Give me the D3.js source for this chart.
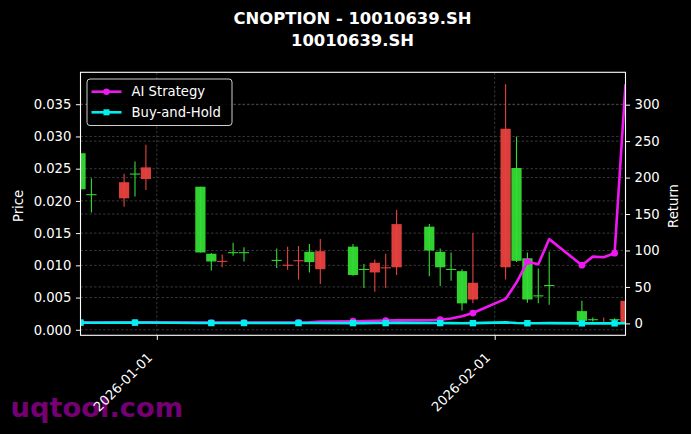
<!DOCTYPE html>
<html>
<head>
<meta charset="utf-8">
<script src="https://cdn.jsdelivr.net/npm/d3@7"></script>
<style>
  html, body { margin: 0; padding: 0; background: #000; }
  svg { display: block; font-family: "DejaVu Sans", sans-serif; }
</style>
</head>
<body>
<div id="chart"></div>
<script>
// trading days (weekends and 2026-01-01 holiday skipped)
const dates = [
  "2025-12-25", "2025-12-26", "2025-12-29", "2025-12-30", "2025-12-31",
  "2026-01-05", "2026-01-06", "2026-01-07", "2026-01-08", "2026-01-09",
  "2026-01-12", "2026-01-13", "2026-01-14", "2026-01-15", "2026-01-16",
  "2026-01-19", "2026-01-20", "2026-01-21", "2026-01-22", "2026-01-23",
  "2026-01-26", "2026-01-27", "2026-01-28", "2026-01-29", "2026-01-30",
  "2026-02-02", "2026-02-03", "2026-02-04", "2026-02-05", "2026-02-06",
  "2026-02-09", "2026-02-10", "2026-02-11", "2026-02-12", "2026-02-13"
];
const opens = [
  0.0274, 0.02105, 0.0204, 0.02425, 0.0234,
  0.0222, 0.0118, 0.0106, 0.01205, 0.01205,
  0.01085, 0.0101, 0.0108, 0.0121, 0.0094,
  0.0129, 0.00945, 0.0089, 0.0097, 0.0097,
  0.0160, 0.0121, 0.00945, 0.0091, 0.0047,
  0.0097, 0.0251, 0.0111, 0.00535, 0.00695,
  0.0029, 0.00165, 0.0010, 0.00165, 0.0010
];
const highs = [
  0.0274, 0.0235, 0.0242, 0.0261, 0.0287,
  0.0222, 0.0119, 0.0117, 0.0135, 0.0128,
  0.0126, 0.0129, 0.0130, 0.0133, 0.0141,
  0.0133, 0.0102, 0.0109, 0.0118, 0.0186,
  0.0164, 0.0126, 0.0120, 0.0094, 0.0150,
  0.0381, 0.0300, 0.0120, 0.0095, 0.0121,
  0.0045, 0.0019, 0.0019, 0.0018, 0.0045
];
const lows = [
  0.0218, 0.0182, 0.0191, 0.0207, 0.0217,
  0.0120, 0.0092, 0.0097, 0.0115, 0.0106,
  0.0096, 0.0093, 0.0078, 0.0089, 0.0071,
  0.0084, 0.0065, 0.0059, 0.0065, 0.0085,
  0.0083, 0.0068, 0.0076, 0.0030, 0.0041,
  0.0078, 0.0105, 0.0042, 0.0041, 0.0039,
  0.0014, 0.0013, 0.0010, 0.0013, 0.0010
];
const closes = [
  0.0218, 0.0210, 0.0229, 0.0242, 0.0252,
  0.0120, 0.0106, 0.0107, 0.0120, 0.0120,
  0.0108, 0.0101, 0.0108, 0.0105, 0.0122,
  0.0085, 0.0094, 0.0104, 0.0097, 0.0164,
  0.0123, 0.0097, 0.0094, 0.0041, 0.0073,
  0.0312, 0.0107, 0.0047, 0.0053, 0.0069,
  0.0014, 0.0016, 0.0011, 0.0016, 0.0045
];
const aiReturn = [
  1.0, 1.0, 1.0, 1.0, 1.0,
  1.0, 1.0, 1.0, 1.0, 1.0,
  1.0, 1.1, 1.3, 1.6, 2.4,
  3.0, 3.3, 3.6, 3.9, 4.1,
  4.4, 5.0, 6.8, 9.8, 14.2,
  33.6, 56.0, 84.6, 81.0, 115.6,
  79.8, 91.6, 90.8, 96.3, 328.0
];
const bhReturn = [
  1.00, 0.96, 1.05, 1.11, 1.16,
  0.55, 0.49, 0.49, 0.55, 0.55,
  0.50, 0.46, 0.50, 0.48, 0.56,
  0.39, 0.43, 0.48, 0.44, 0.75,
  0.56, 0.44, 0.43, 0.19, 0.33,
  1.43, 0.49, 0.22, 0.24, 0.32,
  0.06, 0.07, 0.06, 0.07, 0.21
];
const priceTicks = [0, 0.005, 0.01, 0.015, 0.02, 0.025, 0.03, 0.035];
const returnTicks = [0, 50, 100, 150, 200, 250, 300];
const dateTicks = ["2026-01-01", "2026-02-01"];

const width = 691, height = 434;
const plotL = 80.5, plotR = 625.5, plotT = 72.3, plotB = 335.3;
const parse = d3.utcParse("%Y-%m-%d");

const rows = dates.map((d, i) => ({
  date: parse(d), open: opens[i], high: highs[i], low: lows[i], close: closes[i],
  ai: aiReturn[i], bh: bhReturn[i], i: i
}));

// matplotlib-style 5% margins
function padded(lo, hi) {
  const m = (hi - lo) * 0.05;
  return [lo - m, hi + m];
}

const x = d3.scaleUtc()
  .domain(d3.extent(rows, d => d.date))
  .range([plotL, plotR]);

const y = d3.scaleLinear()
  .domain(padded(d3.min(lows), d3.max(highs)))
  .range([plotB, plotT]);

const y2 = d3.scaleLinear()
  .domain(padded(d3.min([...aiReturn, ...bhReturn]), d3.max([...aiReturn, ...bhReturn])))
  .range([plotB, plotT]);

const svg = d3.select("#chart").append("svg")
  .attr("width", width)
  .attr("height", height);

svg.append("rect").attr("width", width).attr("height", height).attr("fill", "#000");

// watermark sits under the tick labels
svg.append("text")
  .attr("x", 10.5)
  .attr("y", 417)
  .attr("fill", "#800080")
  .attr("fill-opacity", 0.92)
  .attr("font-size", 27.3)
  .attr("font-weight", "bold")
  .text("uqtool.com");

svg.append("defs").append("clipPath").attr("id", "plot-clip")
  .append("rect")
  .attr("x", plotL).attr("y", plotT)
  .attr("width", plotR - plotL).attr("height", plotB - plotT);

// grid lines (both y axes plus date ticks)
const grid = svg.append("g")
  .attr("stroke", "#5a5a5a")
  .attr("stroke-width", 0.6)
  .attr("stroke-dasharray", "2.5,2");

grid.selectAll(".gy")
  .data(priceTicks)
  .enter().append("line")
  .attr("x1", plotL).attr("x2", plotR)
  .attr("y1", d => y(d)).attr("y2", d => y(d));

grid.selectAll(".gy2")
  .data(returnTicks)
  .enter().append("line")
  .attr("x1", plotL).attr("x2", plotR)
  .attr("y1", d => y2(d)).attr("y2", d => y2(d));

grid.selectAll(".gx")
  .data(dateTicks.map(parse))
  .enter().append("line")
  .attr("x1", d => x(d)).attr("x2", d => x(d))
  .attr("y1", plotT).attr("y2", plotB);

const plot = svg.append("g").attr("clip-path", "url(#plot-clip)");

// candlesticks: red when close >= open, green otherwise
const dayPx = x(parse("2026-01-02")) - x(parse("2026-01-01"));
const bodyW = dayPx * 0.94;
const upColor = "#e8413f";
const downColor = "#35dc35";

const candle = plot.selectAll(".candle")
  .data(rows)
  .enter().append("g")
  .attr("class", "candle");

candle.append("line")
  .attr("x1", d => x(d.date)).attr("x2", d => x(d.date))
  .attr("y1", d => y(d.high)).attr("y2", d => y(d.low))
  .attr("stroke", d => d.close >= d.open ? upColor : downColor)
  .attr("stroke-width", 1.1);

candle.append("rect")
  .attr("x", d => x(d.date) - bodyW / 2)
  .attr("width", bodyW)
  .attr("y", d => y(Math.max(d.open, d.close)))
  .attr("height", d => Math.max(1.1, Math.abs(y(d.open) - y(d.close))))
  .attr("fill", d => d.close >= d.open ? upColor : downColor)
  .attr("opacity", 0.95);

// return lines on right axis; buy-and-hold drawn last so it covers the flat start
const aiLine = d3.line().x(d => x(d.date)).y(d => y2(d.ai));
const bhLine = d3.line().x(d => x(d.date)).y(d => y2(d.bh));

plot.append("path")
  .datum(rows)
  .attr("d", aiLine)
  .attr("fill", "none")
  .attr("stroke", "#f018f0")
  .attr("stroke-width", 2.6)
  .attr("stroke-linejoin", "round");

plot.selectAll(".ai-mark")
  .data(rows.filter(d => d.i % 3 === 0))
  .enter().append("circle")
  .attr("cx", d => x(d.date))
  .attr("cy", d => y2(d.ai))
  .attr("r", 3.4)
  .attr("fill", "#f018f0");

plot.append("path")
  .datum(rows)
  .attr("d", bhLine)
  .attr("fill", "none")
  .attr("stroke", "#00f0f0")
  .attr("stroke-width", 2.6);

plot.selectAll(".bh-mark")
  .data(rows.filter(d => d.i % 3 === 0))
  .enter().append("rect")
  .attr("x", d => x(d.date) - 3.2)
  .attr("y", d => y2(d.bh) - 3.2)
  .attr("width", 6.4).attr("height", 6.4)
  .attr("fill", "#00f0f0");

// axes frame
svg.append("rect")
  .attr("x", plotL).attr("y", plotT)
  .attr("width", plotR - plotL).attr("height", plotB - plotT)
  .attr("fill", "none")
  .attr("stroke", "#fff")
  .attr("stroke-width", 1.1);

const tickFont = 13.2;

const yAxis = svg.append("g")
  .attr("transform", `translate(${plotL},0)`)
  .call(d3.axisLeft(y).tickValues(priceTicks).tickFormat(d3.format(".3f")).tickSize(4.6).tickPadding(4.5));

const y2Axis = svg.append("g")
  .attr("transform", `translate(${plotR},0)`)
  .call(d3.axisRight(y2).tickValues(returnTicks).tickFormat(d3.format("d")).tickSize(4.6).tickPadding(4.5));

const xAxis = svg.append("g")
  .attr("transform", `translate(0,${plotB})`)
  .call(d3.axisBottom(x).tickValues(dateTicks.map(parse)).tickFormat(d3.utcFormat("%Y-%m-%d")).tickSize(4.6));

[yAxis, y2Axis, xAxis].forEach(a => {
  a.select(".domain").remove();
  a.selectAll(".tick line").attr("stroke", "#fff").attr("stroke-width", 1);
  a.selectAll(".tick text")
    .attr("fill", "#fff")
    .attr("font-size", tickFont)
    .attr("font-family", "DejaVu Sans, sans-serif");
});

xAxis.selectAll(".tick text")
  .attr("text-anchor", "end")
  .attr("x", 0)
  .attr("y", 0)
  .attr("dy", 0)
  .attr("transform", "translate(-4,23) rotate(-45)");

// axis titles
svg.append("text")
  .attr("transform", `translate(23,206) rotate(-90)`)
  .attr("text-anchor", "middle")
  .attr("fill", "#fff")
  .attr("font-size", tickFont)
  .text("Price");

svg.append("text")
  .attr("transform", `translate(678,206) rotate(-90)`)
  .attr("text-anchor", "middle")
  .attr("fill", "#fff")
  .attr("font-size", tickFont)
  .text("Return");

// title
const title = svg.append("text")
  .attr("text-anchor", "middle")
  .attr("fill", "#fff")
  .attr("font-size", 16.4)
  .attr("font-weight", "bold");
title.append("tspan").attr("x", 352.5).attr("y", 24.3).text("CNOPTION - 10010639.SH");
title.append("tspan").attr("x", 352.5).attr("y", 45.7).text("10010639.SH");

// legend
const legendItems = [
  { name: "AI Strategy", color: "#f018f0", marker: "circle" },
  { name: "Buy-and-Hold", color: "#00f0f0", marker: "square" }
];

const legend = svg.append("g").attr("transform", "translate(87,79)");
legend.append("rect")
  .attr("width", 145).attr("height", 46.5)
  .attr("rx", 3)
  .attr("fill", "#000")
  .attr("fill-opacity", 0.85)
  .attr("stroke", "#cfcfcf")
  .attr("stroke-width", 1);

const item = legend.selectAll(".item")
  .data(legendItems)
  .enter().append("g")
  .attr("transform", (d, i) => `translate(0,${12.7 + i * 20.6})`);

item.append("line")
  .attr("x1", 4.5).attr("x2", 34.5)
  .attr("stroke", d => d.color)
  .attr("stroke-width", 2.6);

item.filter(d => d.marker === "circle").append("circle")
  .attr("cx", 19.5).attr("r", 3.2)
  .attr("fill", d => d.color);

item.filter(d => d.marker === "square").append("rect")
  .attr("x", 16.5).attr("y", -3).attr("width", 6).attr("height", 6)
  .attr("fill", d => d.color);

item.append("text")
  .attr("x", 44.5)
  .attr("y", 4.7)
  .attr("fill", "#fff")
  .attr("font-size", tickFont)
  .text(d => d.name);
</script>
</body>
</html>
